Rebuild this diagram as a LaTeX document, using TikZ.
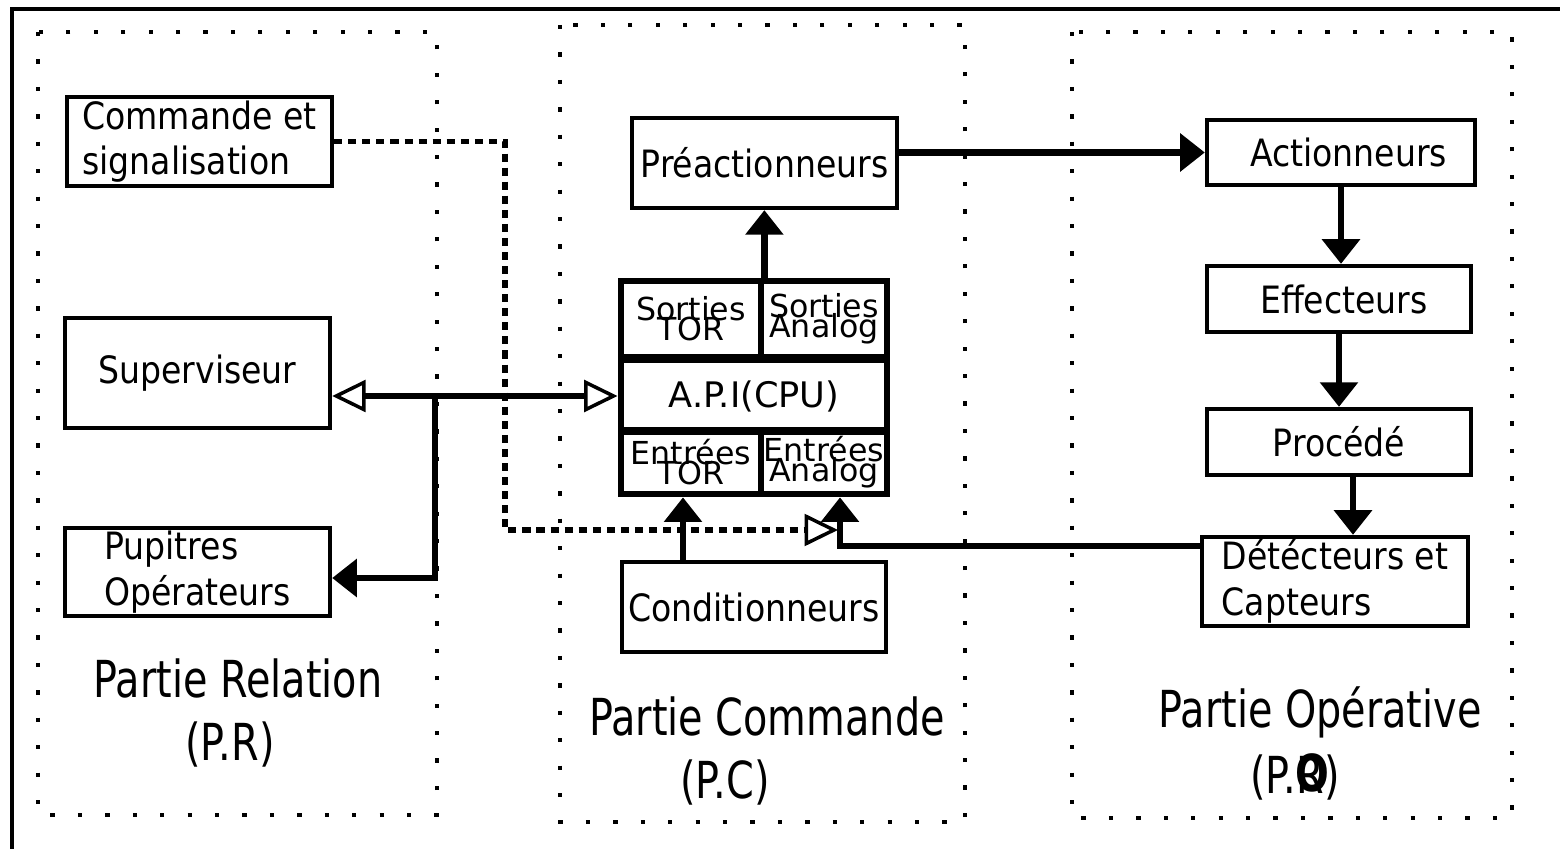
\documentclass[tikz,border=0pt]{standalone}
\usepackage{fontspec}
\setmainfont{DejaVu Sans}[FakeStretch=0.88]
\newfontfamily\titlefont{DejaVu Sans}[FakeStretch=0.78]
\newfontfamily\iofont{DejaVu Sans}
\usetikzlibrary{arrows.meta}
\def\iotwo#1#2{\vbox{\lineskiplimit=-20pt\baselineskip=5.7pt\halign{\hfil##\hfil\cr#1\cr#2\cr}}}

\tikzset{
  zone/.style={line width=1.2pt, dash pattern=on 1.2pt off 6.6pt},
  box/.style={draw, line width=1.2pt, inner sep=0pt, align=left, font=\fontsize{10.7}{13}\selectfont},
  io/.style={draw, line width=1.9pt, inner sep=0pt},
  iotext/.style={inner sep=0pt, font=\iofont\fontsize{9}{11}\selectfont},
  conn/.style={line width=1.9pt, -{Triangle[length=7pt,width=10.5pt]}},
  link/.style={line width=1.9pt, {Triangle[open,length=9.5pt,width=9pt,line width=1pt]}-{Triangle[open,length=9.5pt,width=9pt,line width=1pt]}},
  ctl/.style={line width=1.7pt, dash pattern=on 2.3pt off 1.7pt, -{Triangle[open,length=9.5pt,width=9pt,line width=1pt]}},
  title/.style={inner sep=0pt, font=\titlefont\fontsize{14.5}{17}\selectfont}
}

\begin{document}
\begin{tikzpicture}[x=0.01cm, y=-0.01cm]
		\useasboundingbox (0,0) rectangle (1560,849);
		
		% frame
		\draw[line width=1.4pt] (12,849) -- (12,9) -- (1560,9);
		
		% zones
		\draw[zone] (38,32) rectangle (437,815);
		\draw[zone] (560,25) rectangle (965,822);
		\draw[zone] (1072,32) rectangle (1512,818);
		
		% partie relation
		\node[box, minimum width=2.65cm, minimum height=0.89cm] (cmd) at (199.5,141.5) {Commande et\\signalisation};
		\node[box, minimum width=2.65cm, minimum height=1.10cm] (sup) at (197.5,373) {Superviseur};
		\node[box, minimum width=2.65cm, minimum height=0.88cm] (pup) at (197.5,572) {Pupitres\\Opérateurs};
		
		% partie commande
		\node[box, minimum width=2.65cm, minimum height=0.90cm] (pre) at (764.5,163) {Préactionneurs};
		\node[io, minimum width=1.40cm, minimum height=0.76cm, label={[iotext]center:\iotwo{Sorties}{TOR}}] (sortor) at (691,319) {};
		\node[io, minimum width=1.26cm, minimum height=0.76cm, label={[iotext]center:\iotwo{Sorties}{Analog}}] (sorana) at (824,319) {};
		\node[io, minimum width=2.66cm, minimum height=0.72cm, font=\iofont\fontsize{10}{12}\selectfont] (api) at (754,396) {A.P.I(CPU)};
		\node[io, minimum width=1.40cm, minimum height=0.64cm, label={[iotext]center:\iotwo{Entrées}{TOR}}] (enttor) at (691,462) {};
		\node[io, minimum width=1.26cm, minimum height=0.64cm, label={[iotext]center:\iotwo{Entrées}{Analog}}] (entana) at (824,462) {};
		\node[box, minimum width=2.64cm, minimum height=0.90cm] (cond) at (754,607) {Conditionneurs};
		
		% partie operative
		\node[box, minimum width=2.68cm, minimum height=0.65cm] (act) at (1341,152.5) {\hspace*{0.15cm}Actionneurs};
		\node[box, minimum width=2.64cm, minimum height=0.66cm] (eff) at (1339,299) {\hspace*{0.1cm}Effecteurs};
		\node[box, minimum width=2.64cm, minimum height=0.66cm] (proc) at (1339,442) {Procédé};
		\node[box, minimum width=2.66cm, minimum height=0.89cm] (det) at (1335,581.5) {Détécteurs et\\Capteurs};
		
		% titres
		\node[title] (tpr) at (238,678) {Partie Relation};
		\node[title] (tprs) at (230,745) {(P.R)};
		\node[title] (tpc) at (767,716) {Partie Commande};
		\node[title] (tpcs) at (725,783) {(P.C)};
		\node[title] (tpo) at (1320,712) {Partie Opérative};
		\node[title] (tpos) at (1295,778) {(P.R)};
		\node[title, font=\titlefont\fontsize{14.5}{17}\selectfont\bfseries] (tpoo) at (1312,773) {O};
		
		% liaisons
		\draw[conn] (act.west -| pre.east) -- (act.west);
		\draw[conn] (act.south) -- (act.south |- eff.north);
		\draw[conn] (eff.south) -- (proc.north);
		\draw[conn] ([xshift=0.14cm]proc.south) -- ([xshift=0.14cm]proc.south |- det.north);
		\draw[conn] (sortor.north east) -- (sortor.north east |- pre.south);
		\draw[conn] ([xshift=-0.08cm]enttor.south |- cond.north) -- ([xshift=-0.08cm]enttor.south);
		\draw[conn] ([yshift=-0.11cm]det.north west) -| ([xshift=0.16cm]entana.south);
		
		\coordinate (br) at (435,396);
		\draw[link] (api.west -| sup.east) -- (api.west);
		\draw[conn] (br) |- ([yshift=-0.06cm]pup.east);
		
		\coordinate (ctlend) at (838,530);
		\draw[ctl] (cmd.east) -| (505,530) -- (ctlend);
		
	\end{tikzpicture}
\end{document}
